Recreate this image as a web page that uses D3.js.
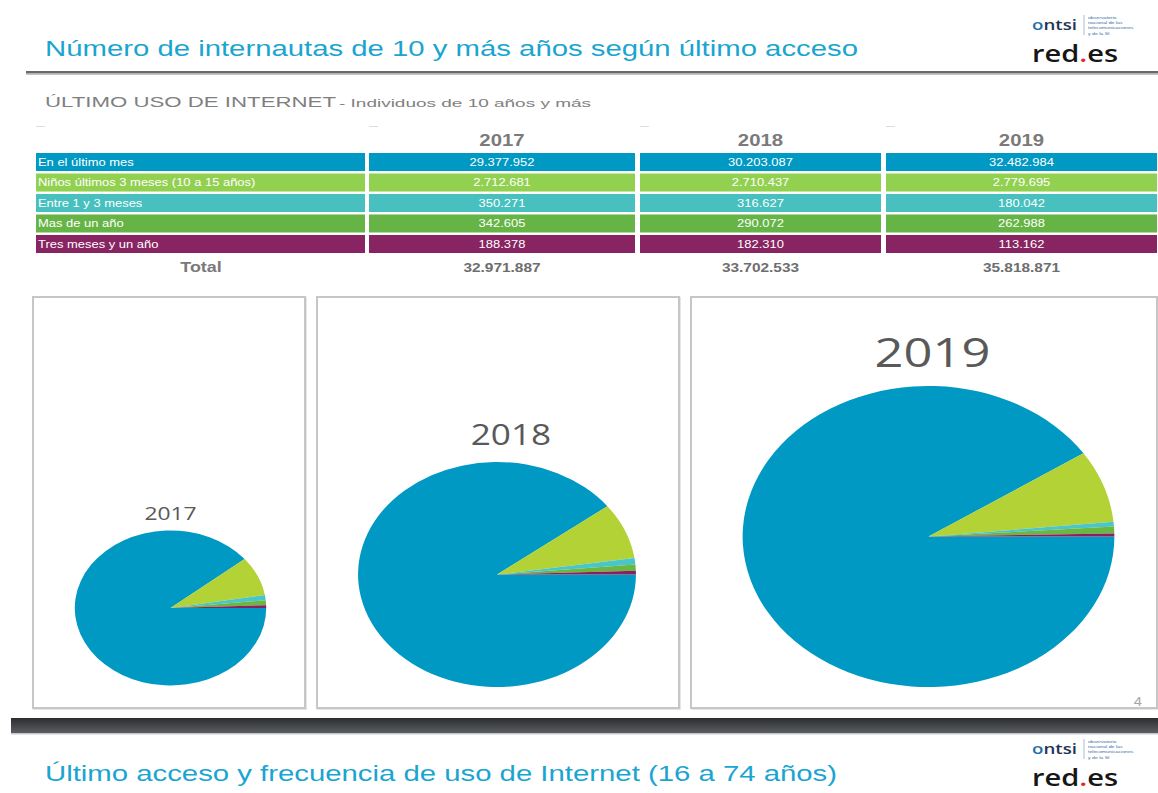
<!DOCTYPE html>
<html>
<head>
<meta charset="utf-8">
<script src="https://cdn.jsdelivr.net/npm/d3@7"></script>
<style>
  html, body { margin: 0; padding: 0; background: #ffffff; }
  svg { display: block; }
</style>
</head>
<body>
<div id="chart"></div>
<script>
// ---------------- DATA ----------------
const categories = [
  "En el último mes",
  "Niños últimos 3 meses (10 a 15 años)",
  "Entre 1 y 3 meses",
  "Mas de un año",
  "Tres meses y un año"
];
const years = ["2017", "2018", "2019"];
const values2017 = [29377952, 2712681, 350271, 342605, 188378];
const values2018 = [30203087, 2710437, 316627, 290072, 182310];
const values2019 = [32482984, 2779695, 180042, 262988, 113162];
const seriesByYear = [values2017, values2018, values2019];

const titleText = "Número de internautas de 10 y más años según último acceso";
const subtitleMain = "ÚLTIMO USO DE INTERNET";
const subtitleSmall = " - Individuos de 10 años y más";
const totalLabel = "Total";
const nextTitleText = "Último acceso y frecuencia de uso de Internet (16 a 74 años)";
const pageNumber = "4";
const logoSmallLines = ["observatorio", "nacional de las", "telecomunicaciones", "y de la SI"];

// ---------------- STYLE / LAYOUT ----------------
const W = 1158, H = 793;
const K = 1.235;               // horizontal stretch of the original slide
const X = px => px / K;        // convert target x (px) to unstretched coords

const tableColors = ["#0099c4", "#92d050", "#47c0bf", "#66b446", "#872461"];
const pieColors   = ["#0099c4", "#b2d235", "#4ac6ca", "#6ab842", "#8b2060"];

const colEdges = [[36, 365], [369, 635], [640, 881], [886, 1157]]; // label col + 3 year cols
const panels = [
  { x0: 33,  x1: 305,  y0: 297, y1: 708, cx: 170.5, cy: 608,   r: 77.5,  labelY: 520, labelSize: 18.5 },
  { x0: 317, x1: 679,  y0: 297, y1: 708, cx: 497,   cy: 574.5, r: 112.5, labelY: 445, labelSize: 28.5 },
  { x0: 691, x1: 1157, y0: 297, y1: 708, cx: 928.5, cy: 536.5, r: 150.5, labelY: 367, labelSize: 41 }
];
const labelOffsetX = [0, 14, 4];

const esLocale = d3.formatLocale({ decimal: ",", thousands: ".", grouping: [3], currency: ["", "€"] });
const fmt = esLocale.format(",d");

// ---------------- SVG ----------------
const svg = d3.select("#chart").append("svg")
  .attr("width", W).attr("height", H)
  .attr("viewBox", `0 0 ${W} ${H}`);

const defs = svg.append("defs");
const grad = defs.append("linearGradient").attr("id", "barGrad")
  .attr("x1", 0).attr("y1", 0).attr("x2", 0).attr("y2", 1);
grad.append("stop").attr("offset", "0%").attr("stop-color", "#2b2d2f");
grad.append("stop").attr("offset", "100%").attr("stop-color", "#5b5e61");

const root = svg.append("g").attr("transform", `scale(${K},1)`);

// ---- Header ----
root.append("text")
  .attr("x", X(45)).attr("y", 56)
  .attr("font-family", "Liberation Sans, Arial, sans-serif")
  .attr("font-size", 21.5)
  .attr("fill", "#1aa5d1")
  .attr("textLength", X(813)).attr("lengthAdjust", "spacingAndGlyphs")
  .text(titleText);

root.append("rect").attr("x", X(26)).attr("y", 71).attr("width", X(W - 26)).attr("height", 2.6).attr("fill", "#666a6d");
root.append("rect").attr("x", X(26)).attr("y", 73.6).attr("width", X(W - 26)).attr("height", 1.4).attr("fill", "#c4c4c4");

// logo drawer
function drawLogo(yTop) {
  const lg = root.append("g");
  const o = lg.append("text")
    .attr("x", X(1032)).attr("y", yTop + 16)
    .attr("font-family", "Open Sans, sans-serif").attr("font-weight", 600)
    .attr("font-size", 15)
    .attr("textLength", X(45)).attr("lengthAdjust", "spacingAndGlyphs");
  o.append("tspan").attr("fill", "#1f6fa8").text("o");
  o.append("tspan").attr("fill", "#1e3552").text("ntsi");
  lg.append("line")
    .attr("x1", X(1084)).attr("x2", X(1084))
    .attr("y1", yTop + 1).attr("y2", yTop + 21)
    .attr("stroke", "#9db4cc").attr("stroke-width", 0.8);
  lg.selectAll(null).data(logoSmallLines).enter().append("text")
    .attr("x", X(1088)).attr("y", (d, i) => yTop + 5 + i * 5.2)
    .attr("font-family", "Liberation Sans, Arial, sans-serif")
    .attr("font-size", 4.2).attr("fill", "#3b6ea3")
    .text(d => d);
  const r = lg.append("text")
    .attr("x", X(1032)).attr("y", yTop + 48)
    .attr("font-family", "Open Sans, sans-serif").attr("font-weight", 600)
    .attr("font-size", 24)
    .attr("textLength", X(86)).attr("lengthAdjust", "spacingAndGlyphs");
  r.append("tspan").attr("fill", "#161616").text("red");
  r.append("tspan").attr("fill", "#e3262a").text(".");
  r.append("tspan").attr("fill", "#161616").text("es");
}
drawLogo(14);

// ---- Subtitle ----
root.append("text")
  .attr("x", X(45)).attr("y", 107)
  .attr("font-family", "Liberation Sans, Arial, sans-serif")
  .attr("font-size", 14.5).attr("fill", "#7f7f7f")
  .attr("textLength", X(291)).attr("lengthAdjust", "spacingAndGlyphs")
  .text(subtitleMain);
root.append("text")
  .attr("x", X(339)).attr("y", 107)
  .attr("font-family", "Liberation Sans, Arial, sans-serif")
  .attr("font-size", 10.5).attr("fill", "#7f7f7f")
  .attr("textLength", X(252)).attr("lengthAdjust", "spacingAndGlyphs")
  .text(subtitleSmall);

// ---- Table ----
const yRow = d3.scaleBand().domain(categories).range([153, 253]).paddingInner(0.12);
const colCenter = i => (colEdges[i][0] + colEdges[i][1]) / 2;

// faint top cell marks
root.selectAll(".tick-mark").data(colEdges).enter().append("line")
  .attr("x1", d => X(d[0])).attr("x2", d => X(d[0] + 9))
  .attr("y1", 126.5).attr("y2", 126.5)
  .attr("stroke", "#dcdcdc").attr("stroke-width", 1);

// year headers
root.selectAll(".yhead").data(years).enter().append("text")
  .attr("x", (d, i) => X(colCenter(i + 1))).attr("y", 146)
  .attr("text-anchor", "middle")
  .attr("font-family", "Liberation Sans, Arial, sans-serif")
  .attr("font-weight", "bold").attr("font-size", 16.5)
  .attr("fill", "#7a7a7a")
  .text(d => d);

// label cells + value cells
categories.forEach((cat, ci) => {
  const y = yRow(cat), h = yRow.bandwidth();
  root.append("rect")
    .attr("x", X(colEdges[0][0])).attr("y", y)
    .attr("width", X(colEdges[0][1] - colEdges[0][0])).attr("height", h)
    .attr("fill", tableColors[ci]);
  root.append("text")
    .attr("x", X(colEdges[0][0] + 2)).attr("y", y + h / 2 + 3.8)
    .attr("font-family", "Liberation Sans, Arial, sans-serif")
    .attr("font-size", 10.5).attr("fill", "#ffffff")
    .text(cat);
  seriesByYear.forEach((vals, yi) => {
    const [a, b] = colEdges[yi + 1];
    root.append("rect")
      .attr("x", X(a)).attr("y", y)
      .attr("width", X(b - a)).attr("height", h)
      .attr("fill", tableColors[ci]);
    root.append("text")
      .attr("x", X((a + b) / 2)).attr("y", y + h / 2 + 3.8)
      .attr("text-anchor", "middle")
      .attr("font-family", "Liberation Sans, Arial, sans-serif")
      .attr("font-size", 10.5).attr("fill", "#ffffff")
      .text(fmt(vals[ci]));
  });
});

// totals row
root.append("text")
  .attr("x", X(201)).attr("y", 272)
  .attr("text-anchor", "middle")
  .attr("font-family", "Liberation Sans, Arial, sans-serif")
  .attr("font-weight", "bold").attr("font-size", 14.5).attr("fill", "#7a7a7a")
  .text(totalLabel);
seriesByYear.forEach((vals, yi) => {
  root.append("text")
    .attr("x", X(colCenter(yi + 1))).attr("y", 272)
    .attr("text-anchor", "middle")
    .attr("font-family", "Liberation Sans, Arial, sans-serif")
    .attr("font-weight", "bold").attr("font-size", 12.5).attr("fill", "#6e6e6e")
    .text(fmt(d3.sum(vals)));
});

// ---- Pie panels ----
const pie = d3.pie().sort(null).value(d => d)
  .startAngle(Math.PI / 2).endAngle(Math.PI / 2 + 2 * Math.PI);

panels.forEach((p, i) => {
  root.append("rect")
    .attr("x", X(p.x0 + 1)).attr("y", p.y0 + 1)
    .attr("width", X(p.x1 - p.x0)).attr("height", p.y1 - p.y0)
    .attr("fill", "none").attr("stroke", "#e6e6e6").attr("stroke-width", 2)
    .attr("vector-effect", "non-scaling-stroke");
  root.append("rect")
    .attr("x", X(p.x0)).attr("y", p.y0)
    .attr("width", X(p.x1 - p.x0)).attr("height", p.y1 - p.y0)
    .attr("fill", "#ffffff").attr("stroke", "#c6c6c6").attr("stroke-width", 2)
    .attr("vector-effect", "non-scaling-stroke");

  const arc = d3.arc().innerRadius(0).outerRadius(p.r);
  const g = root.append("g").attr("transform", `translate(${X(p.cx)},${p.cy})`);
  g.selectAll("path").data(pie(seriesByYear[i])).enter().append("path")
    .attr("d", arc)
    .attr("fill", (d, j) => pieColors[j]);

  root.append("text")
    .attr("x", X(p.cx + labelOffsetX[i])).attr("y", p.labelY)
    .attr("text-anchor", "middle")
    .attr("font-family", "Open Sans, Noto Sans, sans-serif")
    .attr("font-size", p.labelSize).attr("fill", "#595959")
    .text(years[i]);
});

// page number
root.append("text")
  .attr("x", X(1138)).attr("y", 706)
  .attr("text-anchor", "middle")
  .attr("font-family", "Liberation Sans, Arial, sans-serif")
  .attr("font-size", 12).attr("fill", "#a6a6a6")
  .text(pageNumber);

// ---- Slide separator bar ----
root.append("rect").attr("x", X(11)).attr("y", 718).attr("width", X(W - 11)).attr("height", 15).attr("fill", "url(#barGrad)");
root.append("rect").attr("x", X(11)).attr("y", 733).attr("width", X(W - 11)).attr("height", 1.5).attr("fill", "#c8c8c8");

// ---- Next slide title ----
root.append("text")
  .attr("x", X(45)).attr("y", 781)
  .attr("font-family", "Liberation Sans, Arial, sans-serif")
  .attr("font-size", 21.5).attr("fill", "#1aa5d1")
  .attr("textLength", X(792)).attr("lengthAdjust", "spacingAndGlyphs")
  .text(nextTitleText);
drawLogo(738);
</script>
</body>
</html>
